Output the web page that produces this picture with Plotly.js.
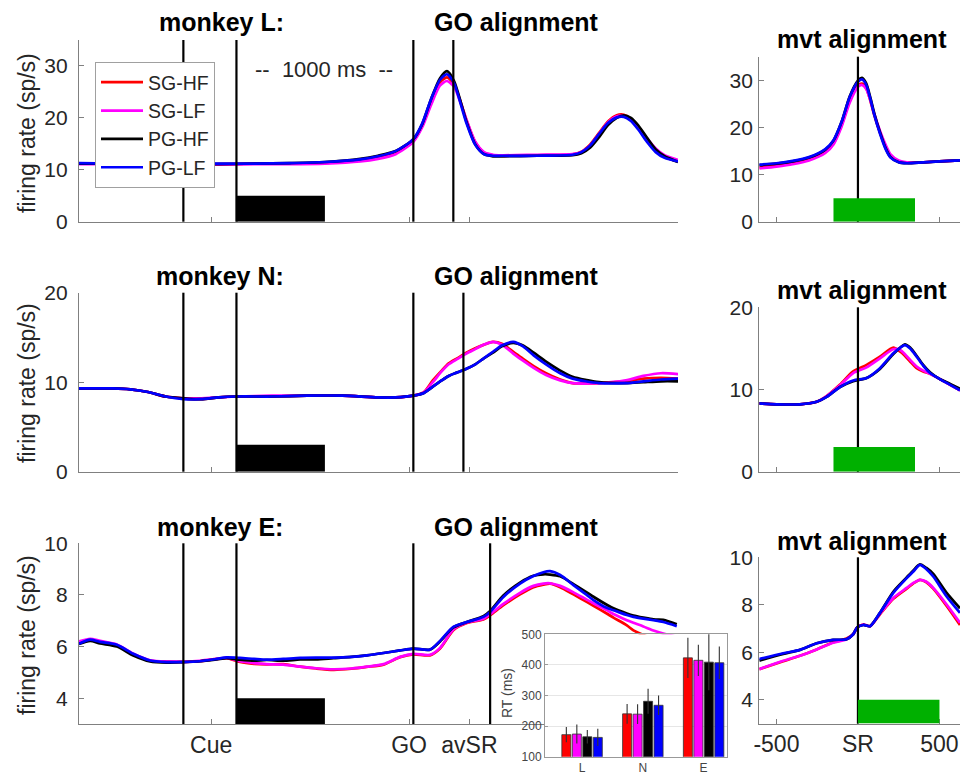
<!DOCTYPE html>
<html>
<head>
<meta charset="utf-8">
<script src="https://cdn.plot.ly/plotly-3.0.1.min.js"></script>
<style>html,body{margin:0;padding:0;background:#fff;}#chart{width:960px;height:776px;}</style>
</head>
<body>
<div id="chart"></div>
<script>
// ---------------- DATA ----------------
const SERIES = ['SG-HF', 'SG-LF', 'PG-HF', 'PG-LF'];

// monkey L, GO alignment (time in ms relative to Cue)
const T_L = [-590,-400,-200,0,200,400,600,800,1000,1100,1200,1300,1350,1400,1450,1490,1530,1570,1600,1650,1700,1750,1800,2000,2200,2250,2300,2350,2400,2450,2490,2530,2570,2620,2670,2720,2796];
const L_SGHF = [11.2,11.2,11.1,11.1,11.1,11.2,11.2,11.3,11.8,12.3,13.2,15.6,18.5,23.0,26.8,27.8,26.5,22.8,19.6,15.3,13.3,12.8,12.7,12.8,13.0,13.5,14.9,17.1,19.3,20.5,20.6,19.8,18.2,15.8,13.8,12.5,11.6];
const L_SGLF = [11.1,11.1,11.0,11.0,11.0,11.1,11.1,11.2,11.6,12.1,13.0,15.4,18.2,22.5,26.2,27.1,26.0,22.6,19.7,15.4,13.4,12.9,12.8,12.9,13.0,13.4,14.7,16.9,19.1,20.3,20.4,19.7,18.3,16.1,14.1,12.8,11.9];
const L_PGHF = [11.2,11.2,11.1,11.2,11.1,11.2,11.3,11.5,12.1,12.7,13.6,15.9,18.8,23.6,27.6,29.0,27.1,22.8,19.3,14.9,13.0,12.6,12.6,12.7,12.8,13.2,14.3,16.3,18.6,20.0,20.5,20.0,18.6,16.2,13.9,12.6,11.5];
const L_PGLF = [11.3,11.2,11.2,11.2,11.2,11.2,11.3,11.5,12.0,12.6,13.6,15.9,18.9,23.6,27.3,28.4,26.7,22.4,19.0,14.8,13.0,12.7,12.7,12.7,12.9,13.4,14.7,16.9,19.0,20.1,20.2,19.4,17.8,15.4,13.4,12.3,11.6];
// monkey L, movement alignment (time in ms relative to SR)
const TM_L = [-605,-500,-400,-300,-200,-150,-100,-50,0,25,50,75,100,135,170,200,250,300,400,500,626];
const LM_SGHF = [11.5,11.9,12.4,13.2,14.8,16.6,20.5,25.7,28.9,29.3,28.4,25.8,22.6,18.9,15.9,14.0,12.8,12.5,12.6,12.8,13.0];
const LM_SGLF = [11.3,11.7,12.2,13.0,14.6,16.4,20.2,25.3,28.6,29.0,28.2,25.9,22.9,19.3,16.3,14.3,13.0,12.6,12.6,12.8,13.0];
const LM_PGHF = [12.0,12.3,12.8,13.6,15.3,17.2,21.2,26.6,29.9,30.5,29.4,26.5,23.0,19.0,15.6,13.7,12.6,12.4,12.6,12.8,13.0];
const LM_PGLF = [12.1,12.4,12.9,13.7,15.4,17.3,21.2,26.5,29.7,30.2,29.1,26.2,22.7,18.7,15.4,13.6,12.6,12.4,12.6,12.8,13.0];

// monkey N, GO alignment
const T_N = [-590,-400,-300,-200,-100,0,100,200,300,500,700,900,1100,1200,1300,1360,1410,1460,1500,1550,1600,1650,1700,1750,1800,1865,1920,1980,2050,2130,2200,2350,2500,2600,2700,2798];
const N_SGHF = [9.3,9.3,9.2,8.9,8.4,8.2,8.1,8.3,8.4,8.4,8.5,8.5,8.3,8.3,8.5,8.9,10.2,11.3,12.1,12.7,13.3,13.8,14.2,14.5,14.3,13.4,12.6,11.8,11.0,10.3,9.9,9.9,10.1,10.4,10.5,10.4];
const N_SGLF = [9.3,9.3,9.2,8.9,8.4,8.2,8.2,8.3,8.4,8.5,8.5,8.5,8.3,8.3,8.5,8.9,10.0,11.2,12.0,12.6,13.2,13.7,14.2,14.5,14.2,13.2,12.4,11.6,10.8,10.2,9.9,9.9,10.2,10.7,11.0,10.9];
const N_PGHF = [9.3,9.3,9.2,8.9,8.4,8.2,8.1,8.3,8.4,8.4,8.5,8.5,8.3,8.3,8.5,8.8,9.5,10.2,10.7,11.1,11.5,12.0,12.7,13.3,14.0,14.4,14.1,13.3,12.3,11.3,10.6,10.0,9.9,10.0,10.1,10.1];
const N_PGLF = [9.3,9.3,9.2,8.9,8.4,8.1,8.1,8.3,8.4,8.4,8.5,8.5,8.3,8.3,8.5,8.8,9.5,10.2,10.7,11.1,11.5,12.0,12.7,13.4,14.1,14.5,14.0,13.0,12.0,11.0,10.4,9.9,9.9,10.1,10.3,10.4];
// monkey N, movement alignment
const TM_N = [-605,-500,-356,-253,-192,-110,-29,53,135,217,260,288,320,360,400,442,500,544,626];
const NM_SGHF = [8.3,8.2,8.2,8.5,9.2,10.6,12.2,13.0,14.0,15.1,14.6,14.1,13.4,12.6,12.2,11.9,11.3,10.8,9.9];
const NM_SGLF = [8.3,8.2,8.2,8.5,9.2,10.5,12.0,12.7,13.8,14.9,14.8,14.3,13.6,12.8,12.3,11.9,11.3,10.8,9.9];
const NM_PGHF = [8.3,8.2,8.2,8.5,9.1,10.3,11.0,11.4,12.5,14.3,15.1,15.5,15.1,14.1,13.0,12.1,11.3,10.9,10.1];
const NM_PGLF = [8.3,8.2,8.2,8.5,9.1,10.3,11.1,11.4,12.6,14.4,15.1,15.4,15.0,14.0,12.9,12.0,11.3,10.8,9.9];

// monkey E, GO alignment
const T_E = [-590,-527,-471,-376,-283,-188,-94,0,94,189,245,320,400,471,565,660,750,848,950,1037,1131,1225,1300,1394,1451,1526,1602,1696,1734,1809,1903,1979,2035,2073,2130,2205,2280,2318,2393,2431,2507,2544,2600,2657,2713,2789];
const E_SGHF = [6.13,6.26,6.20,6.05,5.70,5.45,5.42,5.40,5.43,5.52,5.55,5.40,5.33,5.31,5.32,5.22,5.15,5.10,5.14,5.21,5.30,5.59,5.70,5.66,5.92,6.63,6.91,7.05,7.21,7.60,8.02,8.30,8.40,8.44,8.30,8.02,7.73,7.58,7.28,7.12,6.82,6.63,6.45,6.30,6.20,6.10];
const E_SGLF = [6.20,6.30,6.22,6.08,5.72,5.47,5.42,5.42,5.45,5.52,5.56,5.43,5.36,5.32,5.30,5.22,5.16,5.12,5.15,5.22,5.32,5.60,5.72,5.68,5.95,6.66,6.93,7.08,7.25,7.65,8.08,8.35,8.44,8.45,8.35,8.10,7.82,7.68,7.41,7.26,7.02,6.92,6.78,6.62,6.50,6.38];
const E_PGHF = [6.10,6.22,6.12,6.00,5.65,5.42,5.38,5.40,5.43,5.50,5.55,5.49,5.45,5.48,5.45,5.50,5.50,5.55,5.60,5.66,5.75,5.85,5.92,5.88,6.20,6.74,6.95,7.18,7.38,7.98,8.48,8.74,8.80,8.79,8.72,8.42,8.10,7.93,7.62,7.48,7.28,7.20,7.12,7.05,7.04,6.86];
const E_PGLF = [6.11,6.27,6.18,6.07,5.72,5.46,5.40,5.40,5.43,5.52,5.58,5.56,5.52,5.49,5.52,5.56,5.57,5.57,5.60,5.66,5.75,5.85,5.92,5.88,6.22,6.76,6.95,7.15,7.34,7.92,8.44,8.73,8.88,8.92,8.77,8.38,8.00,7.80,7.50,7.41,7.22,7.15,7.08,7.02,6.95,6.79];
// monkey E, movement alignment
const TM_E = [-605,-458,-356,-253,-152,-70,-29,-4,33,74,135,217,299,340,380,420,462,544,626];
const EM_SGHF = [5.29,5.62,5.85,6.12,6.42,6.58,6.76,7.05,7.17,7.10,7.60,8.25,8.68,8.90,9.05,8.95,8.68,7.95,7.15];
const EM_SGLF = [5.29,5.64,5.85,6.12,6.40,6.55,6.76,7.05,7.17,7.10,7.62,8.29,8.71,8.92,9.05,8.97,8.71,8.01,7.24];
const EM_PGHF = [5.65,5.93,6.10,6.38,6.52,6.55,6.76,7.05,7.15,7.10,7.66,8.55,9.15,9.45,9.70,9.55,9.30,8.50,7.85];
const EM_PGLF = [5.71,5.96,6.10,6.38,6.52,6.55,6.76,7.05,7.15,7.10,7.66,8.50,9.12,9.40,9.68,9.50,9.19,8.35,7.66];

// event markers (ms)
const EVENTS_L = [0, 300, 1300, 1526];   // Cue, cue off, GO, avSR
const EVENTS_N = [0, 300, 1300, 1583];
const EVENTS_E = [0, 300, 1300, 1734];
const DELAY_BAR = [300, 800];             // black bar (time span)
const DELAY_BAR_Y = {L: [0, 5], N: [0, 3], E: [3, 4]};
const MVT_BAR_LN = [-150, 350];           // green bar, monkeys L and N
const MVT_BAR_E = [0, 500];               // green bar, monkey E
const MVT_BAR_Y = {L: [0, 5], N: [0, 3], E: [3, 4]};

// tick labels
const GO_TICKVALS = [157, 1276, 1617];
const GO_TICKTEXT = ['Cue', 'GO', 'avSR'];
const MVT_TICKVALS = [-500, 0, 500];
const MVT_TICKTEXT = ['-500', 'SR', '500'];

// reaction times inset (ms)
const RT_MONKEYS = ['L', 'N', 'E'];
const RT_SGHF = [172, 240, 423];
const RT_SGLF = [174, 239, 415];
const RT_PGHF = [165, 281, 409];
const RT_PGLF = [163, 268, 407];
const RT_SGHF_ERR = [25, 32, 66];
const RT_SGLF_ERR = [31, 32, 51];
const RT_PGHF_ERR = [22, 41, 92];
const RT_PGLF_ERR = [28, 32, 53];

// ---------------- STYLE ----------------
const COLORS = ['#ff0000', '#ff00ff', '#000000', '#0000ff'];
const FONT = 'Liberation Sans, Arial, Helvetica, sans-serif';
const TXT = '#262626';
const AX = '#808080';
const W = 960, H = 776;
const fx = p => p / W;
const fy = p => 1 - p / H;

const traces = [];
function addCurves(t, ys, xa, ya, legend) {
  ys.forEach((y, i) => {
    traces.push({
      type: 'scatter', mode: 'lines', x: t, y: y, xaxis: xa, yaxis: ya,
      name: SERIES[i], showlegend: legend, legendgroup: SERIES[i],
      line: {color: COLORS[i], width: 2.7, shape: 'spline', smoothing: 0.7},
      hoverinfo: 'skip'
    });
  });
}
addCurves(T_L, [L_SGHF, L_SGLF, L_PGHF, L_PGLF], 'x', 'y', true);
addCurves(TM_L, [LM_SGHF, LM_SGLF, LM_PGHF, LM_PGLF], 'x2', 'y2', false);
addCurves(T_N, [N_SGHF, N_SGLF, N_PGHF, N_PGLF], 'x3', 'y3', false);
addCurves(TM_N, [NM_SGHF, NM_SGLF, NM_PGHF, NM_PGLF], 'x4', 'y4', false);
addCurves(T_E, [E_SGHF, E_SGLF, E_PGHF, E_PGLF], 'x5', 'y5', false);
addCurves(TM_E, [EM_SGHF, EM_SGLF, EM_PGHF, EM_PGLF], 'x6', 'y6', false);

const RT_VALS = [RT_SGHF, RT_SGLF, RT_PGHF, RT_PGLF];
const RT_ERRS = [RT_SGHF_ERR, RT_SGLF_ERR, RT_PGHF_ERR, RT_PGLF_ERR];
RT_VALS.forEach((v, i) => {
  traces.push({
    type: 'bar', x: RT_MONKEYS.map((m, k) => k + 1), y: v, xaxis: 'x7', yaxis: 'y7',
    name: SERIES[i], showlegend: false,
    marker: {color: COLORS[i], line: {color: '#333', width: 0.8}},
    error_y: {type: 'data', array: RT_ERRS[i], visible: true, color: '#333', thickness: 1.1, width: 0},
    hoverinfo: 'skip'
  });
});

// ---------------- AXES ----------------
const MAIN_X = [fx(79), fx(678)];
const RIGHT_X = [fx(759.3), 1];
function xAxis(domain, range, tv, tt, labels, anchor) {
  return {domain, range, anchor, tickvals: tv, ticktext: tt, showticklabels: labels,
    showline: true, linecolor: AX, linewidth: 1.2, ticks: 'inside', ticklen: 5, tickcolor: AX,
    zeroline: false, showgrid: false, fixedrange: true,
    tickfont: {family: FONT, size: 23, color: TXT}};
}
function yAxis(domain, range, tv, anchor, standoff) {
  return {domain, range, anchor, tickvals: tv, showline: true, linecolor: AX, linewidth: 1.2,
    ticks: 'inside', ticklen: 5, tickcolor: AX, zeroline: false, showgrid: false, fixedrange: true,
    ticklabelstandoff: standoff,
    tickfont: {family: FONT, size: 21, color: TXT}};
}
const GO_RANGE = [-590, 2796];
const MVT_RANGE = [-605, 626];

const layout = {
  width: W, height: H, margin: {l: 0, r: 0, t: 0, b: 0},
  paper_bgcolor: '#fff', plot_bgcolor: '#fff',
  font: {family: FONT, color: TXT},
  barmode: 'group', bargap: 0.31, bargroupgap: 0.14,
  showlegend: true,
  legend: {x: fx(95), y: fy(62), xanchor: 'left', yanchor: 'top', bgcolor: '#fff',
    bordercolor: '#a0a0a0', borderwidth: 1, font: {family: FONT, size: 19.5, color: TXT},
    itemwidth: 42, tracegroupgap: 0},
  xaxis: xAxis(MAIN_X, GO_RANGE, GO_TICKVALS, GO_TICKTEXT, false, 'y'),
  yaxis: yAxis([fy(221.7), fy(40)], [0, 35], [0, 10, 20, 30], 'x', 6),
  xaxis2: xAxis(RIGHT_X, MVT_RANGE, MVT_TICKVALS, MVT_TICKTEXT, false, 'y2'),
  yaxis2: yAxis([fy(221.7), fy(56.7)], [0, 35], [0, 10, 20, 30], 'x2', 1),
  xaxis3: xAxis(MAIN_X, GO_RANGE, GO_TICKVALS, GO_TICKTEXT, false, 'y3'),
  yaxis3: yAxis([fy(471.7), fy(292.7)], [0, 20], [0, 10, 20], 'x3', 6),
  xaxis4: xAxis(RIGHT_X, MVT_RANGE, MVT_TICKVALS, MVT_TICKTEXT, false, 'y4'),
  yaxis4: yAxis([fy(471.7), fy(307.3)], [0, 20], [0, 10, 20], 'x4', 1),
  xaxis5: xAxis(MAIN_X, GO_RANGE, GO_TICKVALS, GO_TICKTEXT, true, 'y5'),
  yaxis5: yAxis([fy(724), fy(543.3)], [3, 10], [4, 6, 8, 10], 'x5', 6),
  xaxis6: xAxis(RIGHT_X, MVT_RANGE, MVT_TICKVALS, MVT_TICKTEXT, true, 'y6'),
  yaxis6: yAxis([fy(723.5), fy(557.3)], [3, 10], [4, 6, 8, 10], 'x6', 1),
  xaxis7: {domain: [fx(545), fx(727.3)], range: [0.39, 3.39], anchor: 'y7',
    tickvals: [1, 2, 3], ticktext: RT_MONKEYS, showline: true, mirror: true, linecolor: '#999',
    linewidth: 1, ticks: '', zeroline: false, showgrid: false, fixedrange: true,
    tickfont: {family: FONT, size: 12, color: '#444'}},
  yaxis7: {domain: [fy(756.7), fy(634.3)], range: [100, 500], anchor: 'x7', dtick: 100,
    showline: true, mirror: true, linecolor: '#999', linewidth: 1, ticks: 'inside', ticklen: 3,
    tickcolor: '#999', showgrid: true, gridcolor: '#e6e6e6', zeroline: false, fixedrange: true,
    tickfont: {family: FONT, size: 12, color: '#444'}},
  shapes: [], annotations: []
};

// event lines and bars
function vlines(events, xa, ya) {
  events.forEach(t => layout.shapes.push({type: 'line', xref: xa, yref: ya + ' domain',
    x0: t, x1: t, y0: 0, y1: 1, line: {color: '#000', width: 2.2}}));
}
function rect(span, yspan, xa, ya, color) {
  layout.shapes.push({type: 'rect', xref: xa, yref: ya, x0: span[0], x1: span[1],
    y0: yspan[0], y1: yspan[1], fillcolor: color, line: {width: 0}});
}
vlines(EVENTS_L, 'x', 'y'); vlines(EVENTS_N, 'x3', 'y3'); vlines(EVENTS_E, 'x5', 'y5');
vlines([0], 'x2', 'y2'); vlines([0], 'x4', 'y4'); vlines([0], 'x6', 'y6');
rect(DELAY_BAR, DELAY_BAR_Y.L, 'x', 'y', '#000');
rect(DELAY_BAR, DELAY_BAR_Y.N, 'x3', 'y3', '#000');
rect(DELAY_BAR, DELAY_BAR_Y.E, 'x5', 'y5', '#000');
rect(MVT_BAR_LN, MVT_BAR_Y.L, 'x2', 'y2', '#00b000');
rect(MVT_BAR_LN, MVT_BAR_Y.N, 'x4', 'y4', '#00b000');
rect(MVT_BAR_E, MVT_BAR_Y.E, 'x6', 'y6', '#00b000');

// text
function note(text, px, py, size, opts) {
  layout.annotations.push(Object.assign({text, x: fx(px), y: fy(py), xref: 'paper', yref: 'paper',
    xanchor: 'center', yanchor: 'middle', showarrow: false,
    font: {family: FONT, size, color: '#000'}}, opts || {}));
}
note('<b>monkey L:</b>', 221, 22, 25);
note('<b>GO alignment</b>', 516, 22, 25);
note('<b>mvt alignment</b>', 862, 39, 25);
note('<b>monkey N:</b>', 220, 276, 25);
note('<b>GO alignment</b>', 516, 276, 25);
note('<b>mvt alignment</b>', 862, 290, 25);
note('<b>monkey E:</b>', 220, 527, 25);
note('<b>GO alignment</b>', 516, 527, 25);
note('<b>mvt alignment</b>', 862, 541, 25);
note('--  1000 ms  --', 324, 69, 22, {font: {family: FONT, size: 22, color: TXT}});
const YT = {family: FONT, size: 23, color: TXT};
note('firing rate (sp/s)', 27, 133, 23, {textangle: -90, font: YT});
note('firing rate (sp/s)', 27, 383, 23, {textangle: -90, font: YT});
note('firing rate (sp/s)', 27, 635, 23, {textangle: -90, font: YT});
note('RT (ms)', 507, 693, 14, {textangle: -90, font: {family: FONT, size: 14, color: '#444'}});

Plotly.newPlot('chart', traces, layout, {displayModeBar: false, staticPlot: true});
</script>
</body>
</html>
